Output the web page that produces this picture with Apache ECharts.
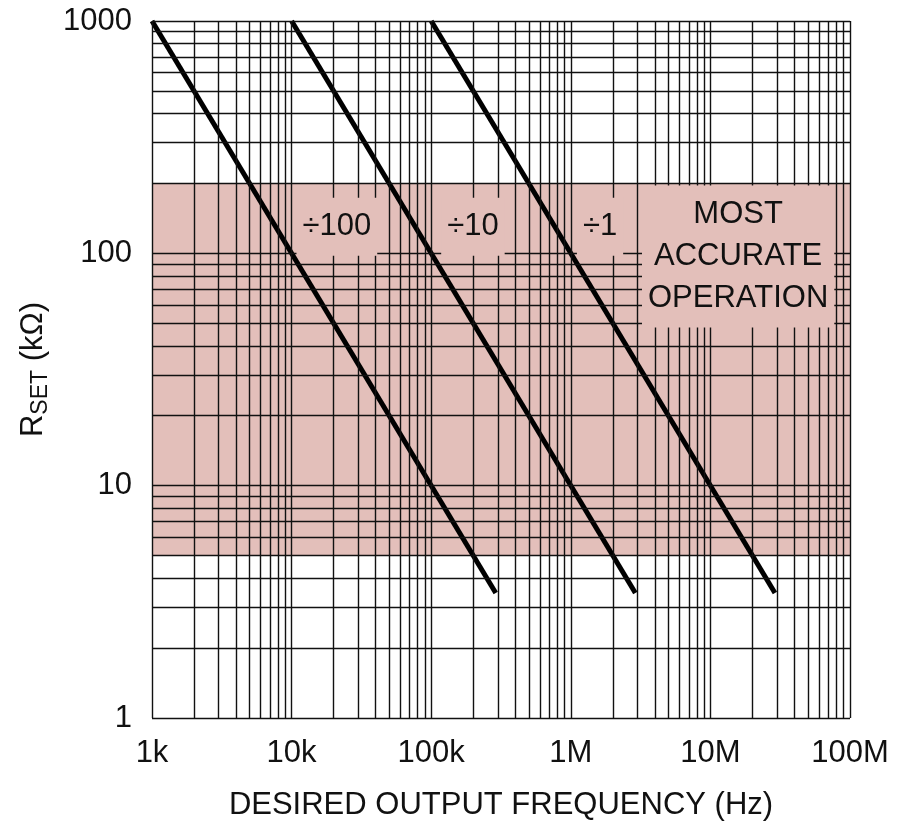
<!DOCTYPE html>
<html>
<head>
<meta charset="utf-8">
<script src="https://cdn.jsdelivr.net/npm/echarts/dist/echarts.min.js"></script>
<style>
html,body{margin:0;padding:0;background:#fff;}
#chart{width:917px;height:832px;}
</style>
</head>
<body>
<div id="chart"></div>
<script>
// ---- data ----
const xTickValues = [1e3, 1e4, 1e5, 1e6, 1e7, 1e8];
const xTickLabels = ['1k', '10k', '100k', '1M', '10M', '100M'];
const yTickValues = [1, 10, 100, 1000];
const yTickLabels = ['1', '10', '100', '1000'];
const div100 = [[1000, 1000], [290000, 3.45]];
const div10 = [[10000, 1000], [2900000, 3.45]];
const div1 = [[100000, 1000], [29000000, 3.45]];
const accurateBand = [5, 200];
const annoText = ['÷100', '÷10', '÷1', 'MOST\nACCURATE\nOPERATION'];
const annoF = [21100, 199000, 1620000, 15800000];
const annoR = [130, 130, 130, 97];

// grid values (1..9 per decade)
function decadeGrid(lo, hi) {
  const out = [];
  for (let d = lo; d < hi; d *= 10) {
    for (let m = 1; m <= 9; m++) out.push(m * d);
  }
  out.push(hi);
  return out;
}
const xGrid = decadeGrid(1e3, 1e8);
const yGrid = decadeGrid(1, 1000);

const FONT = "'Liberation Sans Narrow', 'Liberation Sans', Arial, sans-serif";
const TXT = '#111111';

const chart = echarts.init(document.getElementById('chart'), null, {renderer: 'canvas'});

const gridLines = xGrid.map(v => ({xAxis: v})).concat(yGrid.map(v => ({yAxis: v})));

const option = {
  animation: false,
  backgroundColor: '#fff',
  grid: {left: 152, right: 67, top: 21, bottom: 114},
  xAxis: {
    type: 'log', logBase: 10, min: 1e3, max: 1e8,
    name: 'DESIRED OUTPUT FREQUENCY (Hz)',
    nameLocation: 'middle', nameGap: 72,
    nameTextStyle: {fontFamily: FONT, fontSize: 31, color: TXT},
    axisLine: {show: false}, axisTick: {show: false}, splitLine: {show: false},
    axisLabel: {
      fontFamily: FONT, fontSize: 31, color: TXT, margin: 20,
      formatter: v => { const i = xTickValues.findIndex(t => Math.abs(t - v) / t < 1e-6); return i >= 0 ? xTickLabels[i] : ''; }
    }
  },
  yAxis: {
    type: 'log', logBase: 10, min: 1, max: 1000,
    name: 'R{sub|SET} (kΩ)',
    nameLocation: 'middle', nameGap: 100, nameRotate: 90,
    nameTextStyle: {
      fontFamily: FONT, fontSize: 31, color: TXT,
      rich: {sub: {fontFamily: FONT, fontSize: 23, color: TXT, padding: [14, 0, 0, 0]}}
    },
    axisLine: {show: false}, axisTick: {show: false}, splitLine: {show: false},
    axisLabel: {
      fontFamily: FONT, fontSize: 31, color: TXT, margin: 20,
      formatter: v => { const i = yTickValues.findIndex(t => Math.abs(t - v) / t < 1e-6); return i >= 0 ? yTickLabels[i] : ''; }
    }
  },
  series: [
    {
      type: 'line', data: [], z: 0, silent: true,
      markArea: {
        silent: true,
        itemStyle: {color: '#e3bfba', opacity: 1},
        data: [[{yAxis: accurateBand[0]}, {yAxis: accurateBand[1]}]]
      }
    },
    {
      type: 'line', data: [], z: 1, silent: true,
      markLine: {
        silent: true, symbol: ['none', 'none'], animation: false,
        label: {show: false},
        lineStyle: {color: '#111', width: 1.4, type: 'solid', opacity: 1},
        data: gridLines
      }
    },
    {type: 'line', data: div100, showSymbol: false, z: 3, lineStyle: {color: '#000', width: 5}},
    {type: 'line', data: div10, showSymbol: false, z: 3, lineStyle: {color: '#000', width: 5}},
    {type: 'line', data: div1, showSymbol: false, z: 3, lineStyle: {color: '#000', width: 5}},
    {
      type: 'scatter', z: 5, symbolSize: 0, silent: true,
      itemStyle: {opacity: 1},
      data: annoText.map((t, i) => ({value: [annoF[i], annoR[i]], name: t})),
      label: {
        show: true, position: 'inside', formatter: p => p.name, opacity: 1,
        fontFamily: FONT, fontSize: 31, color: TXT, lineHeight: 42,
        backgroundColor: '#e3bfba', padding: [8, 6, 8, 6]
      }
    }
  ]
};
chart.setOption(option);
</script>
</body>
</html>
